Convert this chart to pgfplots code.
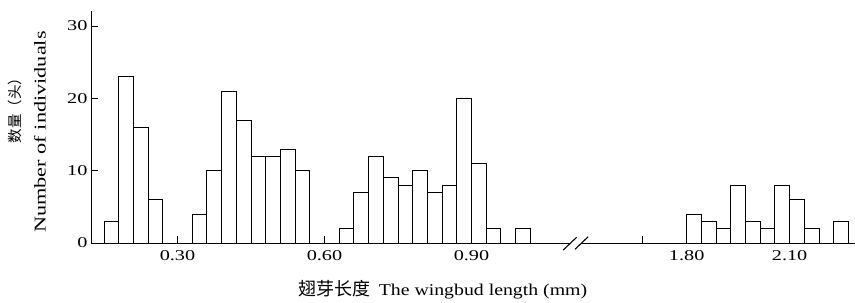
\documentclass[border=0pt]{standalone}
\usepackage{fontspec}
\setmainfont{Liberation Serif}[FakeStretch=1.35]
\newfontfamily\serifnarrow{Liberation Serif}[FakeStretch=1.2]
\newfontfamily\cjk{Noto Sans CJK SC}
\usepackage{pgfplots}
\pgfplotsset{compat=1.18}
\begin{document}
\begin{tikzpicture}
\begin{axis}[name=ax, scale only axis, width=764bp, height=232bp,
  xmin=-0.884, xmax=51.09, ymin=0, ymax=32.07,
  axis lines*=left, axis line style={line width=0.9bp},
  xtick={5,15,25,36.64,39.64,46.64},
  xticklabels={0.30,0.60,0.90,,1.80,2.10},
  ytick={0,10,20,30},
  tick align=inside, major tick length=7bp,
  tick style={line width=0.9bp, black},
  ticklabel style={font=\fontsize{15bp}{18bp}\selectfont},
  xticklabel style={yshift=-4bp},
  /pgf/number format/assume math mode=true,
  clip=false]
\addplot[ybar, bar width=1, bar shift=0, fill=white, draw=black, line width=0.9bp]
 coordinates {(0.5,3) (1.5,23) (2.5,16) (3.5,6)
  (6.5,4) (7.5,10) (8.5,21) (9.5,17) (10.5,12) (11.5,12) (12.5,13) (13.5,10)
  (16.5,2) (17.5,7) (18.5,12) (19.5,9) (20.5,8) (21.5,10) (22.5,7) (23.5,8)
  (24.5,20) (25.5,11) (26.5,2) (28.5,2)};
\addplot[ybar, bar width=1, bar shift=0, fill=white, draw=black, line width=0.9bp]
 coordinates {(40.14,4) (41.14,3) (42.14,2) (43.14,8) (44.14,3) (45.14,2)
  (46.14,8) (47.14,6) (48.14,2) (50.14,3)};
\coordinate (b1) at (axis cs:31.24,-0.97);
\coordinate (b2) at (axis cs:32.15,0.79);
\coordinate (b3) at (axis cs:32.04,-0.87);
\coordinate (b4) at (axis cs:32.94,0.87);
\end{axis}
\fill[white] (b1) -- (b2) -- (b4) -- (b3) -- cycle;
\draw[line width=1.1bp] (b1) -- (b2) (b3) -- (b4);
\node[rotate=90, font=\fontsize{16.5bp}{19bp}\selectfont] at ([shift={(-51bp,111bp)}]ax.south west) {Number of individuals};
\node[rotate=90, font=\fontsize{14.5bp}{17bp}\selectfont\cjk] at ([shift={(-76bp,136bp)}]ax.south west) {数量（头）};
\node[font=\fontsize{16.5bp}{19bp}\selectfont\serifnarrow] at ([shift={(352bp,-47bp)}]ax.south west) {{\cjk\fontsize{18bp}{20bp}\selectfont 翅芽长度}\hspace{8bp}The wingbud length (mm)};
\pgfresetboundingbox
\path ([shift={(-91bp,-60bp)}]ax.south west) rectangle ([shift={(764bp,243bp)}]ax.south west);
\end{tikzpicture}
\end{document}
